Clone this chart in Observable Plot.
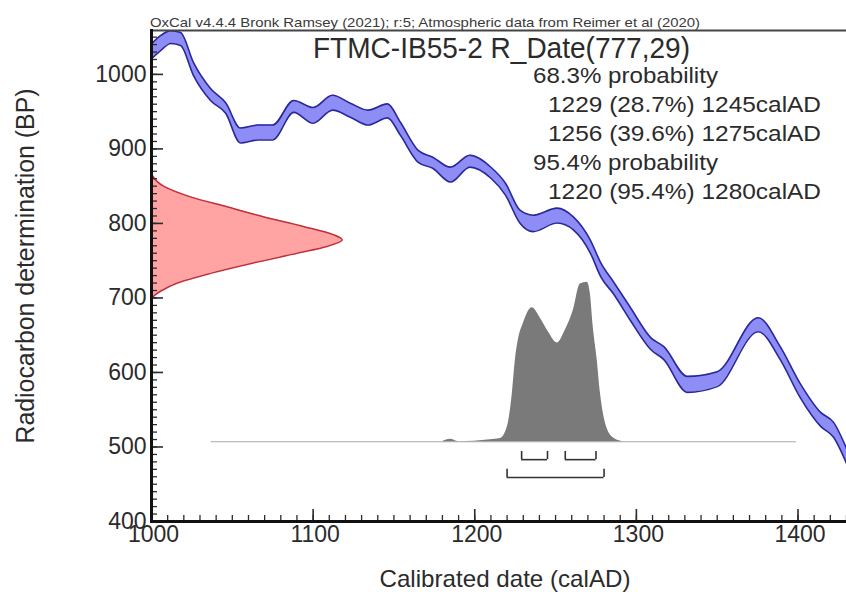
<!DOCTYPE html>
<html><head><meta charset="utf-8">
<script src="https://cdn.jsdelivr.net/npm/d3@7"></script>
<script src="https://cdn.jsdelivr.net/npm/@observablehq/plot@0.6"></script>
<style>body{margin:0;background:#fff} svg{display:block}</style>
</head><body><div id="chart"></div>
<script>
// Calibration curve (IntCal20 as drawn): calendar year, 14C age BP, 1-sigma
const curveYear = [1000,1005.6,1012,1018,1026,1036.5,1046,1055,1066,1075,1088,1100,1112,1123,1134,1146,1154,1165,1174,1185,1197,1210,1219,1228,1236,1251,1261,1271.5,1278,1286,1296,1309,1317,1331.5,1350,1375.4,1389,1401,1414,1422,1430];
const curveBP = [1031,1042,1050,1047.5,1007,973,954.5,918,922,922,957,945,962,952,942,951,927,890,881.5,865.5,883.5,868,846,809,800,810.5,800,769,737.6,713,679.5,638.5,626,584,591,664,626,577,537,523,488];
const curveSigma = [10,10,8.5,8.7,8.7,8,7,10,10,10,8,10.5,10,9.4,10,9.4,8.7,8,7.4,10,8,7.4,8,8.7,11,10,8.7,8.7,9.4,8,8.7,8,8.7,10.7,10,9.4,8.7,9.4,9.4,10,10];

// Radiocarbon measurement R_Date(777,29): BP and relative probability
const measBP = [866,850,836,822,809,796,785,778,769,760,747,733,720,709,702,698];
const measDensity = [0,0.063,0.2,0.4,0.586,0.796,0.953,1,0.92,0.764,0.534,0.309,0.136,0.047,0.01,0];

// Calibrated distribution: calendar year and relative probability
const calYear = [1180,1185,1190,1209.6,1215.8,1220.2,1223.3,1225.1,1227,1230,1235.6,1240.6,1245.5,1251,1256,1261,1265.3,1269.6,1271.5,1273.3,1275.8,1277.7,1280.8,1285.7,1291.9];
const calDensity = [0,0.015,0,0.012,0.02,0.094,0.306,0.51,0.64,0.74,0.84,0.775,0.69,0.62,0.7,0.825,0.99,1,0.93,0.72,0.51,0.31,0.12,0.025,0];
const calSpan = [1037, 1399];

// Highest posterior density ranges
const range68 = [[1229,1245],[1256,1275]];
const range95 = [[1220,1280]];

// Ticks and labels
const xMajor = [1000,1100,1200,1300,1400];
const xMinor = d3.range(1000, 1431, 10);
const yMajor = [400,500,600,700,800,900,1000];
const yMinor = d3.range(400, 1060, 10);

const topNote = "OxCal v4.4.4 Bronk Ramsey (2021); r:5; Atmospheric data from Reimer et al (2020)";
const titleText = "FTMC-IB55-2 R_Date(777,29)";
const probLines = ["68.3% probability","1229 (28.7%) 1245calAD","1256 (39.6%) 1275calAD","95.4% probability","1220 (95.4%) 1280calAD"];
const xLabel = "Calibrated date (calAD)";
const yLabel = "Radiocarbon determination (BP)";

// ---- layout ----
const W = 846, H = 592, mL = 151, mR = 0, mT = 30, mB = 71;
const fw = W - mL - mR, fh = H - mT - mB;
const yTop = 1058.9;
const calBase = 507, calHeight = 214;   // BP units
const measWidth = 118;                   // years for peak of measurement
const FONT = "Liberation Sans, Arial, Helvetica, sans-serif";
const ink = "#2b2b2b";

const curve = curveYear.map((x, i) => ({x, lo: curveBP[i] - curveSigma[i], hi: curveBP[i] + curveSigma[i]}));
const meas = measBP.map((y, i) => ({y, d: measDensity[i]}));
const cal = calYear.map((x, i) => ({x, d: calDensity[i]}));

const chart = Plot.plot({
  width: W, height: H,
  marginLeft: mL, marginRight: mR, marginTop: mT, marginBottom: mB,
  style: {fontFamily: FONT, background: "#fff", color: ink},
  x: {domain: [1000, 1430]},
  y: {domain: [400, yTop]},
  marks: [
    // calibration curve band
    Plot.areaY(curve, {x: "x", y1: "lo", y2: "hi", fill: "#8d8df5", curve: "monotone-x", clip: true}),
    Plot.lineY(curve, {x: "x", y: "hi", stroke: "#28289a", strokeWidth: 1.6, curve: "monotone-x", clip: true}),
    Plot.lineY(curve, {x: "x", y: "lo", stroke: "#28289a", strokeWidth: 1.6, curve: "monotone-x", clip: true}),
    // measurement distribution (red)
    Plot.areaX(meas, {y: "y", x1: 1000, x2: d => 1000 + d.d * measWidth, fill: "#ffa3a3", curve: "monotone-y"}),
    Plot.lineX(meas, {y: "y", x: d => 1000 + d.d * measWidth, stroke: "#c0303a", strokeWidth: 1.5, curve: "monotone-y"}),
    // calibrated distribution (grey)
    Plot.ruleY([calBase], {x1: calSpan[0], x2: calSpan[1], stroke: "#a8a8a8", strokeWidth: 1.2}),
    Plot.areaY(cal, {x: "x", y1: calBase, y2: d => calBase + d.d * calHeight, fill: "#7a7a7a", curve: "monotone-x"}),
    // range brackets
    Plot.ruleY(range68, {x1: d => d[0], x2: d => d[1], y: 483, stroke: "#333", strokeWidth: 1.6}),
    Plot.ruleX(range68.flat(), {x: d => d, y1: 483, y2: 494, stroke: "#333", strokeWidth: 1.6}),
    Plot.ruleY(range95, {x1: d => d[0], x2: d => d[1], y: 459, stroke: "#333", strokeWidth: 1.6}),
    Plot.ruleX(range95.flat(), {x: d => d, y1: 459, y2: 470, stroke: "#333", strokeWidth: 1.6}),
    // inward ticks
    Plot.tickY(yMinor, {y: d => d, insetRight: fw - 6, stroke: ink, strokeWidth: 1.3}),
    Plot.tickY(yMajor, {y: d => d, insetRight: fw - 12, stroke: ink, strokeWidth: 1.6}),
    Plot.tickX(xMinor, {x: d => d, insetTop: fh - 6, stroke: ink, strokeWidth: 1.3}),
    Plot.tickX(xMajor, {x: d => d, insetTop: fh - 12, stroke: ink, strokeWidth: 1.6}),
    // tick labels
    Plot.axisY({ticks: yMajor, tickSize: 0, tickPadding: 5, fontSize: 23, label: null, tickFormat: d => String(d), fill: ink}),
    Plot.axisX({ticks: xMajor, tickSize: 0, tickPadding: 4, fontSize: 23, label: null, tickFormat: d => String(d), fill: ink, dx: 2}),
    // frame lines
    Plot.frame({anchor: "top", stroke: "#444", strokeWidth: 2}),
    Plot.frame({anchor: "left", stroke: "#111", strokeWidth: 3}),
    Plot.frame({anchor: "bottom", stroke: "#111", strokeWidth: 3})
  ]
});

const svg = d3.select(chart);
function addText(str, x, y, size, len, opts = {}) {
  const t = svg.append("text")
    .attr("x", x).attr("y", y)
    .attr("font-family", FONT).attr("font-size", size)
    .attr("fill", opts.fill || ink)
    .attr("text-anchor", opts.anchor || "start")
    .text(str);
  if (len) t.attr("textLength", len).attr("lengthAdjust", "spacingAndGlyphs");
  if (opts.transform) t.attr("transform", opts.transform);
  return t;
}
addText(topNote, 150, 27, 13, 550, {fill: "#3a3a3a"});
addText(titleText, 313, 58, 29, 377);
const probX = [533, 548, 548, 533, 548];
const probW = [185, 273, 273, 185, 273];
probLines.forEach((s, i) => addText(s, probX[i], 83 + i * 29, 22, probW[i]));
addText(xLabel, 505, 587, 24, 251, {anchor: "middle"});
svg.append("text")
  .attr("transform", "translate(34,266) rotate(-90)")
  .attr("font-family", FONT).attr("font-size", 25).attr("fill", ink)
  .attr("text-anchor", "middle")
  .attr("textLength", 355).attr("lengthAdjust", "spacingAndGlyphs")
  .text(yLabel);

document.getElementById("chart").appendChild(chart);
</script>
</body></html>
